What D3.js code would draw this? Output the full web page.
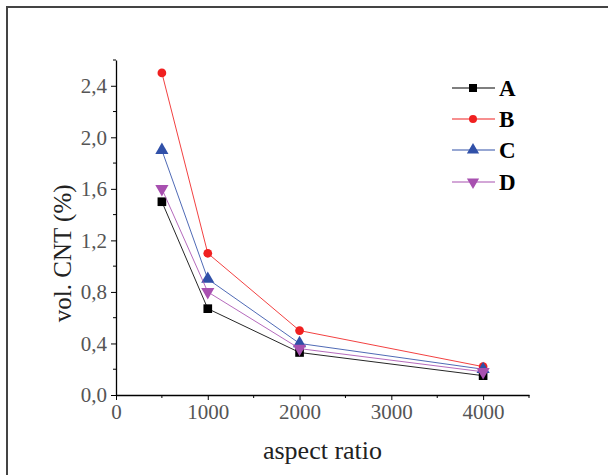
<!DOCTYPE html>
<html>
<head>
<meta charset="utf-8">
<script src="https://cdn.jsdelivr.net/npm/d3@7"></script>
<style>
  body { margin: 0; background: #fff; }
  svg { display: block; }
  svg text { font-family: "Liberation Serif", "Times New Roman", serif !important; }
</style>
</head>
<body>
<svg width="608" height="475"></svg>
<script>
// datos
const aspectRatio = [500, 1000, 2000, 4000];
const serieA = [1.5, 0.67, 0.33, 0.15];
const serieB = [2.5, 1.1, 0.5, 0.22];
const serieC = [1.9, 0.9, 0.4, 0.2];
const serieD = [1.6, 0.8, 0.36, 0.18];
const nombres = ["A", "B", "C", "D"];
const xTicks = [0, 1000, 2000, 3000, 4000];
const yTicks = [0, 0.4, 0.8, 1.2, 1.6, 2.0, 2.4];

const series = [
  { valores: serieA, color: "#000000", marca: d3.symbolSquare, rot: 0 },
  { valores: serieB, color: "#f02020", marca: d3.symbolCircle, rot: 0 },
  { valores: serieC, color: "#3050a8", marca: d3.symbolTriangle, rot: 0 },
  { valores: serieD, color: "#a850b0", marca: d3.symbolTriangle, rot: 180 },
];

const svg = d3.select("svg");

// marco exterior (sin borde derecho)
svg.append("path")
  .attr("d", "M7,475 L7,7 L608,7")
  .attr("fill", "none")
  .attr("stroke", "#444")
  .attr("stroke-width", 2);

const x = d3.scaleLinear().domain([0, 4500]).range([116, 529]);
const y = d3.scaleLinear().domain([0, 2.6]).range([395, 60]);

const coma = d => d3.format(".1f")(d).replace(".", ",");

// eje x
const ejeX = svg.append("g")
  .attr("transform", `translate(0,${y(0)})`)
  .call(d3.axisBottom(x).tickValues(xTicks).tickSize(5).tickPadding(4).tickSizeOuter(0).tickFormat(d3.format("d")));
ejeX.append("g").selectAll("line")
  .data([500, 1500, 2500, 3500, 4500])
  .enter().append("line")
  .attr("x1", d => x(d)).attr("x2", d => x(d))
  .attr("y1", 0).attr("y2", 3)
  .attr("stroke", "#000");

// eje y
const ejeY = svg.append("g")
  .attr("transform", `translate(${x(0)},0)`)
  .call(d3.axisLeft(y).tickValues(yTicks).tickSize(5).tickPadding(4).tickSizeOuter(0).tickFormat(coma));
ejeY.append("g").selectAll("line")
  .data([0.2, 0.6, 1.0, 1.4, 1.8, 2.2, 2.6])
  .enter().append("line")
  .attr("y1", d => y(d)).attr("y2", d => y(d))
  .attr("x1", 0).attr("x2", -3)
  .attr("stroke", "#000");

[ejeX, ejeY].forEach(e => {
  e.attr("font-family", null).attr("font-size", null);
  e.select(".domain").attr("stroke", "#000").attr("stroke-width", 1.3);
  e.selectAll(".tick line").attr("stroke", "#000");
  e.selectAll(".tick text")
    .style("font-size", "21px")
    .attr("fill", "#555");
});

// titulos de ejes
svg.append("text")
  .attr("x", x(2250)).attr("y", 459)
  .attr("text-anchor", "middle")
  .style("font-size", "26px")
  .attr("fill", "#222")
  .text("aspect ratio");

svg.append("text")
  .attr("transform", `translate(71,${y(1.1)}) rotate(-90)`)
  .attr("text-anchor", "middle")
  .style("font-size", "25px")
  .attr("fill", "#222")
  .text("vol. CNT (%)");

const linea = d3.line()
  .x((d, i) => x(aspectRatio[i]))
  .y(d => y(d));

// lineas y marcas
const grupos = svg.selectAll(".serie")
  .data(series)
  .enter()
  .append("g")
  .attr("class", "serie");

grupos.append("path")
  .attr("d", d => linea(d.valores))
  .attr("fill", "none")
  .attr("stroke", d => d.color)
  .attr("stroke-width", 1)
  .attr("stroke-opacity", 0.85);

grupos.each(function (s) {
  d3.select(this).selectAll("path.marca")
    .data(s.valores)
    .enter()
    .append("path")
    .attr("class", "marca")
    .attr("d", d3.symbol().type(s.marca).size(s.marca === d3.symbolCircle ? 60 : 75))
    .attr("transform", (d, i) => `translate(${x(aspectRatio[i])},${y(d)}) rotate(${s.rot})`)
    .attr("fill", s.color);
});

// leyenda
const leyenda = svg.append("g");
const filasY = [88, 119, 150, 182];
series.forEach((s, i) => {
  const g = leyenda.append("g").attr("transform", `translate(0,${filasY[i]})`);
  g.append("line")
    .attr("x1", 452).attr("x2", 495)
    .attr("stroke", s.color).attr("stroke-width", 1.2);
  g.append("path")
    .attr("d", d3.symbol().type(s.marca).size(s.marca === d3.symbolCircle ? 50 : 65))
    .attr("transform", `translate(473,0) rotate(${s.rot})`)
    .attr("fill", s.color);
  g.append("text")
    .attr("x", 499).attr("y", 8)
    .style("font-size", "23px")
    .attr("font-weight", "bold")
    .attr("fill", "#000")
    .text(nombres[i]);
});
</script>
</body>
</html>
